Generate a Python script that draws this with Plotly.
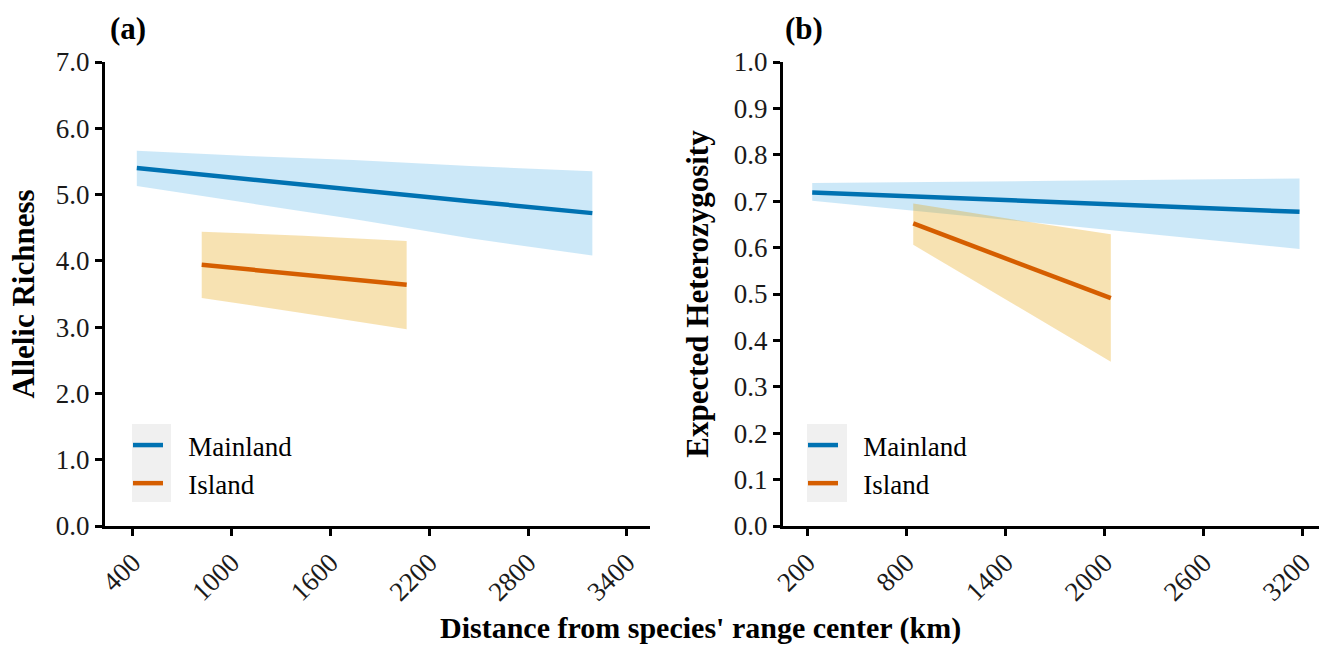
import plotly.graph_objects as go

# ---------------- data ----------------
# Panel (a): Allelic Richness
a_main_x = [425, 1132, 1739, 2447, 3190]
a_main_fit = [5.40, 5.22, 5.07, 4.90, 4.72]
a_main_lo = [5.13, 4.86, 4.63, 4.34, 4.08]
a_main_hi = [5.66, 5.58, 5.52, 5.43, 5.35]

a_isl_x = [819, 1436, 2063]
a_isl_fit = [3.94, 3.79, 3.64]
a_isl_lo = [3.44, 3.21, 2.97]
a_isl_hi = [4.44, 4.38, 4.30]

# Panel (b): Expected Heterozygosity
b_main_x = [230, 1711, 3182]
b_main_fit = [0.719, 0.698, 0.677]
b_main_lo = [0.701, 0.649, 0.597]
b_main_hi = [0.739, 0.744, 0.749]

b_isl_x = [842, 1441, 2039]
b_isl_fit = [0.652, 0.572, 0.491]
b_isl_lo = [0.606, 0.480, 0.354]
b_isl_hi = [0.695, 0.661, 0.629]

series_names = ["Mainland", "Island"]
a_xticks = [400, 1000, 1600, 2200, 2800, 3400]
b_xticks = [200, 800, 1400, 2000, 2600, 3200]
a_yticks = [0, 1, 2, 3, 4, 5, 6, 7]
b_yticks = [0.0, 0.1, 0.2, 0.3, 0.4, 0.5, 0.6, 0.7, 0.8, 0.9, 1.0]

# ---------------- styles ----------------
W, H = 1321, 648
FONT = "'Liberation Serif', 'Times New Roman', Times, serif"
line_col = {"Mainland": "#0072B2", "Island": "#D55E00"}
fill_col = {"Mainland": "rgba(86,180,233,0.3)", "Island": "rgba(230,159,0,0.3)"}

fig = go.Figure()


def add_panel(xs, fits, los, his, xref, yref, legend):
    # ribbons first
    for name, x, lo, hi in zip(series_names, xs, los, his):
        fig.add_trace(go.Scatter(
            x=list(x) + list(x)[::-1], y=list(hi) + list(lo)[::-1],
            fill="toself", fillcolor=fill_col[name], mode="none",
            line=dict(width=0), hoverinfo="skip", showlegend=False,
            xaxis=xref, yaxis=yref))
    for name, x, f in zip(series_names, xs, fits):
        fig.add_trace(go.Scatter(
            x=x, y=f, mode="lines", name="\u00a0\u00a0\u00a0" + name,
            line=dict(color=line_col[name], width=4.5),
            xaxis=xref, yaxis=yref, legend=legend, showlegend=True))


add_panel([a_main_x, a_isl_x], [a_main_fit, a_isl_fit],
          [a_main_lo, a_isl_lo], [a_main_hi, a_isl_hi], "x", "y", "legend")
add_panel([b_main_x, b_isl_x], [b_main_fit, b_isl_fit],
          [b_main_lo, b_isl_lo], [b_main_hi, b_isl_hi], "x2", "y2", "legend2")


def px(x):
    return x / W


def py(y):
    return (H - y) / H


ydom = [py(526), py(62)]
axis_common = dict(
    showline=True, linecolor="black", linewidth=3, mirror=False,
    ticks="outside", ticklen=7, tickwidth=2.5, tickcolor="black",
    showgrid=False, zeroline=False,
    tickfont=dict(family=FONT, size=27, color="#1a1a1a"),
)

fig.update_layout(
    width=W, height=H,
    margin=dict(l=0, r=0, t=0, b=0, autoexpand=False),
    paper_bgcolor="white", plot_bgcolor="white",
    font=dict(family=FONT, color="black"),
    xaxis=dict(domain=[px(105), px(650)], range=[232, 3540], anchor="y",
               tickvals=a_xticks, tickangle=-45, **axis_common),
    yaxis=dict(domain=ydom, range=[0, 7], anchor="x",
               tickvals=a_yticks, tickformat=".1f",
               title=dict(text="<b>Allelic Richness</b>", standoff=12,
                          font=dict(family=FONT, size=31, color="black")),
               **axis_common),
    xaxis2=dict(domain=[px(783), px(1319)], range=[53, 3300], anchor="y2",
                tickvals=b_xticks, tickangle=-45, **axis_common),
    yaxis2=dict(domain=ydom, range=[0, 1], anchor="x2",
                tickvals=b_yticks, tickformat=".1f",
                title=dict(text="<b>Expected Heterozygosity</b>", standoff=16,
                           font=dict(family=FONT, size=31, color="black")),
                **axis_common),
    legend=dict(x=px(128), y=py(421), xanchor="left", yanchor="top",
                bgcolor="rgba(0,0,0,0)", itemwidth=30,
                font=dict(family=FONT, size=27, color="black")),
    legend2=dict(x=px(803), y=py(421), xanchor="left", yanchor="top",
                 bgcolor="rgba(0,0,0,0)", itemwidth=30,
                 font=dict(family=FONT, size=27, color="black")),
    shapes=[
        dict(type="rect", xref="paper", yref="paper",
             x0=px(132), x1=px(171), y0=py(502), y1=py(424),
             fillcolor="#f0f0f0", line=dict(width=0), layer="below"),
        dict(type="rect", xref="paper", yref="paper",
             x0=px(807), x1=px(847), y0=py(502), y1=py(424),
             fillcolor="#f0f0f0", line=dict(width=0), layer="below"),
    ],
    annotations=[
        dict(text="<b>(a)</b>", xref="paper", yref="paper",
             x=px(128), y=py(29), xanchor="center", yanchor="middle",
             showarrow=False, font=dict(family=FONT, size=31, color="black")),
        dict(text="<b>(b)</b>", xref="paper", yref="paper",
             x=px(804), y=py(29), xanchor="center", yanchor="middle",
             showarrow=False, font=dict(family=FONT, size=31, color="black")),
        dict(text="<b>Distance from species' range center (km)</b>",
             xref="paper", yref="paper", x=px(700), y=py(647),
             xanchor="center", yanchor="bottom", showarrow=False,
             font=dict(family=FONT, size=30, color="black")),
    ],
)

fig.write_html(
    "out.html",
    config={"displayModeBar": False},
    post_script="document.body.style.margin='0';document.body.style.overflow='hidden';",
)
